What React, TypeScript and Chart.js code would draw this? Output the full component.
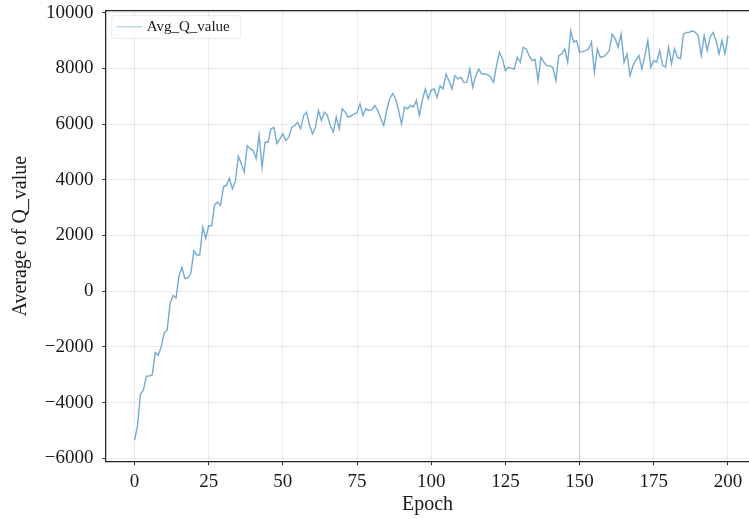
import React, { useEffect, useRef } from "react";
import { Chart, registerables } from "chart.js";

Chart.register(...registerables);

const seriesLabel = "Avg_Q_value";
const xTitle = "Epoch";
const yTitle = "Average of Q_value";
const xTicks = [0, 25, 50, 75, 100, 125, 150, 175, 200];
const yTicks = [-6000, -4000, -2000, 0, 2000, 4000, 6000, 8000, 10000];

// Average Q value per epoch (epoch = index, 0..200)
const avgQ = [
  -5350, -4850, -3700, -3550, -3050, -3050, -3000, -2200, -2300, -2000,
  -1500, -1400, -450, -150, -250, 550, 850, 450, 480, 650,
  1450, 1300, 1300, 2300, 1900, 2350, 2350, 3100, 3200, 3080,
  3750, 3800, 4050, 3680, 3950, 4850, 4580, 4280, 5230, 5110,
  5050, 4760, 5600, 4450, 5350, 5350, 5830, 5880, 5300, 5470,
  5650, 5410, 5530, 5890, 5950, 6070, 5830, 6310, 6430, 5950,
  5650, 5890, 6490, 6130, 6430, 6310, 5950, 5710, 6250, 5830,
  6550, 6430, 6250, 6290, 6370, 6400, 6730, 6310, 6550, 6490,
  6520, 6670, 6490, 6200, 5950, 6490, 6910, 7090, 6910, 6490,
  6010, 6610, 6550, 6670, 6610, 6850, 6310, 6850, 7260, 6910,
  7220, 7260, 6950, 7380, 7260, 7800, 7560, 7260, 7740, 7620,
  7680, 7500, 7500, 7980, 7320, 7740, 7980, 7800, 7800, 7780,
  7680, 7500, 8100, 8580, 8340, 7920, 8040, 8000, 7980, 8400,
  8220, 8760, 8700, 8460, 8280, 8320, 7560, 8400, 8220, 8100,
  8080, 8040, 7560, 8460, 8520, 8700, 8220, 9350, 8940, 9000,
  8580, 8600, 8640, 8700, 8940, 7860, 8700, 8400, 8420, 8500,
  8640, 9230, 9060, 8760, 9230, 8220, 8520, 7740, 8100, 8300,
  8460, 7980, 8460, 9000, 8040, 8280, 8220, 8640, 8100, 8050,
  8760, 8160, 8700, 8400, 8350, 9230, 9290, 9300, 9350, 9300,
  9170, 8460, 9170, 8640, 9120, 9290, 9000, 8520, 9000, 8520,
  9170,
];

const FONT = '"Liberation Serif", "DejaVu Serif", serif';
const TEXT = "#1a1a1a";
const LINE = "rgba(31,119,180,0.62)";

const fmt = (v: number) => (v < 0 ? "\u2212" + Math.abs(v) : String(v));

const framePlugin = {
  id: "frameAndLegend",
  afterDraw(chart: any) {
    const { ctx, chartArea } = chart;
    ctx.save();
    // top spine
    ctx.strokeStyle = "#222";
    ctx.lineWidth = 1.25;
    ctx.beginPath();
    ctx.moveTo(chartArea.left - 0.6, chartArea.top);
    ctx.lineTo(chartArea.right, chartArea.top);
    ctx.stroke();
    // legend
    const bx = chartArea.left + 5.7;
    const by = chartArea.top + 5;
    const bw = 129;
    const bh = 23;
    const r = 3;
    ctx.beginPath();
    ctx.moveTo(bx + r, by);
    ctx.lineTo(bx + bw - r, by);
    ctx.arcTo(bx + bw, by, bx + bw, by + r, r);
    ctx.lineTo(bx + bw, by + bh - r);
    ctx.arcTo(bx + bw, by + bh, bx + bw - r, by + bh, r);
    ctx.lineTo(bx + r, by + bh);
    ctx.arcTo(bx, by + bh, bx, by + bh - r, r);
    ctx.lineTo(bx, by + r);
    ctx.arcTo(bx, by, bx + r, by, r);
    ctx.closePath();
    ctx.fillStyle = "rgba(255,255,255,0.8)";
    ctx.fill();
    ctx.strokeStyle = "rgba(0,0,0,0.08)";
    ctx.lineWidth = 1;
    ctx.stroke();
    const ly = by + 11;
    ctx.strokeStyle = "rgba(31,119,180,0.3)";
    ctx.lineWidth = 1.5;
    ctx.beginPath();
    ctx.moveTo(bx + 5, ly);
    ctx.lineTo(bx + 30.5, ly);
    ctx.stroke();
    ctx.fillStyle = TEXT;
    ctx.font = `15px ${FONT}`;
    ctx.textBaseline = "middle";
    ctx.textAlign = "left";
    ctx.fillText(seriesLabel, bx + 35, ly + 0.5);
    ctx.restore();
  },
};

export default function App() {
  const ref = useRef<HTMLCanvasElement | null>(null);

  useEffect(() => {
    if (!ref.current) return;
    const points = avgQ.map((v, i) => ({ x: i, y: v }));
    const chart = new Chart(ref.current, {
      type: "line",
      data: {
        datasets: [
          {
            label: seriesLabel,
            data: points,
            borderColor: LINE,
            borderWidth: 1.4,
            pointRadius: 0,
            tension: 0,
            fill: false,
          },
        ],
      },
      options: {
        animation: false,
        responsive: false,
        maintainAspectRatio: false,
        layout: { padding: { top: 10.7, right: 0, left: 0, bottom: 0 } },
        plugins: {
          legend: { display: false },
          tooltip: { enabled: false },
        },
        scales: {
          x: {
            type: "linear",
            min: -9.6,
            max: 207.1,
            afterBuildTicks: (s: any) => {
              s.ticks = xTicks.map((v) => ({ value: v }));
            },
            afterFit: (s: any) => {
              s.height = 57.3;
              s.paddingLeft = 0;
              s.paddingRight = 0;
            },
            ticks: {
              autoSkip: false,
              maxRotation: 0,
              padding: 5,
              color: TEXT,
              font: { family: FONT, size: 19 },
              callback: (v: any) => fmt(Number(v)),
            },
            grid: {
              color: (c: any) =>
                c.tick && c.tick.value === 150 ? "rgba(0,0,0,0.2)" : "rgba(0,0,0,0.08)",
              lineWidth: 1,
              tickColor: "#222",
              tickLength: 3.5,
              drawTicks: true,
            },
            border: { display: true, color: "#222", width: 1.25 },
            title: {
              display: true,
              text: xTitle,
              color: TEXT,
              font: { family: FONT, size: 20 },
              padding: { top: 0, bottom: 2 },
            },
          },
          y: {
            type: "linear",
            min: -6122,
            max: 10072,
            afterBuildTicks: (s: any) => {
              s.ticks = yTicks.map((v) => ({ value: v }));
            },
            afterFit: (s: any) => {
              s.width = 106;
              s.paddingTop = 0;
              s.paddingBottom = 0;
            },
            ticks: {
              autoSkip: false,
              padding: 9,
              color: TEXT,
              font: { family: FONT, size: 19 },
              callback: (v: any) => fmt(Number(v)),
            },
            grid: {
              color: "rgba(0,0,0,0.08)",
              lineWidth: 1,
              tickColor: "#222",
              tickLength: 3.5,
              drawTicks: true,
            },
            border: { display: true, color: "#222", width: 1.25 },
            title: {
              display: true,
              text: yTitle,
              color: TEXT,
              font: { family: FONT, size: 20 },
              padding: { top: 9, bottom: 0 },
            },
          },
        },
      },
      plugins: [framePlugin],
    });
    return () => chart.destroy();
  }, []);

  return (
    <div style={{ position: "absolute", left: 0, top: 0, width: 749, height: 519, background: "#fff" }}>
      <canvas ref={ref} width={749} height={519} style={{ width: 749, height: 519 }} />
    </div>
  );
}
